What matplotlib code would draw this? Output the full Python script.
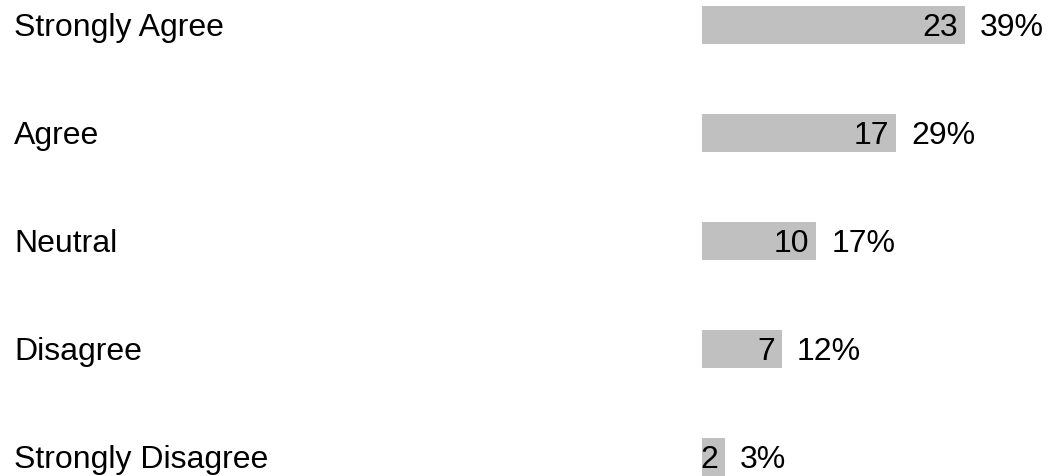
import matplotlib
matplotlib.use('Agg')
import matplotlib.pyplot as plt
import matplotlib.transforms as mtransforms

# Data
categories = ['Strongly Agree', 'Agree', 'Neutral', 'Disagree', 'Strongly Disagree']
counts     = [23, 17, 10, 7, 2]
percents   = [39, 29, 17, 12, 3]

plt.rcParams['font.family'] = ['Liberation Sans', 'DejaVu Sans']
fsize = 23

W, H, dpi = 1048, 476, 100
fig = plt.figure(figsize=(W / dpi, H / dpi), dpi=dpi)

# axes from bar start to the right edge, px per unit ~ 11.43
px_per_unit = 11.43
ax_left = 702
ax = fig.add_axes([ax_left / W, 0, (W - ax_left) / W, 1])
ax.set_xlim(0, (W - ax_left) / px_per_unit)
row_px, first_px = 108, 25
ax.set_ylim((H - first_px) / row_px, -first_px / row_px)
ax.axis('off')

ypos = list(range(len(categories)))
ax.barh(ypos, counts, height=38 / row_px, color='#c0c0c0', edgecolor='none')

label_tr = mtransforms.blended_transform_factory(fig.transFigure, ax.transData)
label_tr = mtransforms.offset_copy(label_tr, fig=fig, y=-11, units='dots')
num_tr   = mtransforms.offset_copy(ax.transData, fig=fig, x=-7, y=-11, units='dots')
pct_tr   = mtransforms.offset_copy(ax.transData, fig=fig, x=15, y=-11, units='dots')

for y, cat, c, p in zip(ypos, categories, counts, percents):
    ax.text(14 / W, y, cat, transform=label_tr, fontsize=fsize, va='baseline', ha='left', color='black')
    ax.text(c, y, str(c), transform=num_tr, fontsize=fsize, va='baseline', ha='right', color='black')
    ax.text(c, y, f'{p}%', transform=pct_tr, fontsize=fsize, va='baseline', ha='left', color='black')

fig.savefig('out.png', dpi=dpi, facecolor='white')
